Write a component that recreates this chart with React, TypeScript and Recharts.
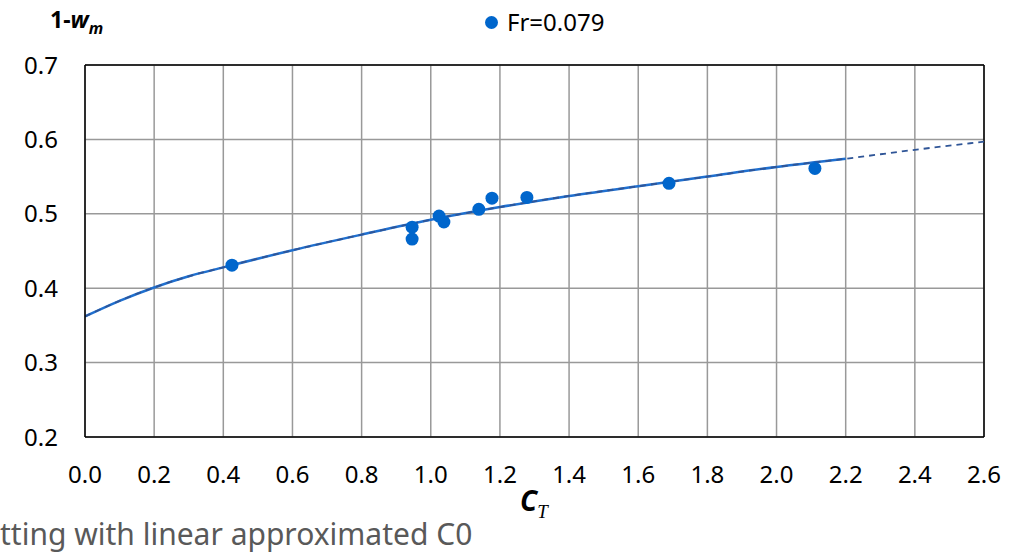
import React from 'react';
import {
  ComposedChart, Line, Scatter, XAxis, YAxis, CartesianGrid, ReferenceLine,
} from 'recharts';

// Measured points, Fr = 0.079
const ctValues = [0.425, 0.946, 0.946, 1.024, 1.038, 1.139, 1.177, 1.278, 1.689, 2.111];
const wValues = [0.431, 0.482, 0.466, 0.497, 0.489, 0.506, 0.521, 0.522, 0.541, 0.561];

// Fitted curve (solid part to 2.2, dashed extension to 2.6)
const curveCt = [0, 0.1, 0.2, 0.3, 0.4, 0.6, 0.8, 1.0, 1.2, 1.4, 1.6, 1.8, 2.0, 2.2, 2.4, 2.6];
const curveW = [0.362, 0.383, 0.401, 0.416, 0.428, 0.451, 0.472, 0.492, 0.509, 0.524, 0.537, 0.550, 0.563, 0.574, 0.586, 0.597];
const solidEnd = 2.2;

const xTicks = [0, 0.2, 0.4, 0.6, 0.8, 1.0, 1.2, 1.4, 1.6, 1.8, 2.0, 2.2, 2.4, 2.6];
const yTicks = [0.2, 0.3, 0.4, 0.5, 0.6, 0.7];

const legendLabel = 'Fr=0.079';
const captionText = 'tting with linear approximated C0';

const points = ctValues.map((x, i) => ({ x, y: wValues[i] }));
const curveAll = curveCt.map((x, i) => ({ x, y: curveW[i] }));
const curveSolid = curveAll.filter((d) => d.x <= solidEnd + 1e-9);

const FONT = '"Noto Sans", "Open Sans", sans-serif';

const Dot = (props: any) => {
  const { cx, cy } = props;
  if (cx == null || cy == null) return null;
  return <circle cx={cx} cy={cy} r={6.5} fill="#0066CC" />;
};

export default function App() {
  return (
    <div style={{ position: 'absolute', left: 0, top: 0, width: 1035, height: 553, background: '#fff', fontFamily: FONT, overflow: 'hidden' }}>
      <ComposedChart
        width={1035}
        height={553}
        margin={{ top: 65, right: 51, left: 0, bottom: 0 }}
      >
        <CartesianGrid stroke="#999999" strokeWidth={1.5} />
        <XAxis
          dataKey="x"
          type="number"
          domain={[0, 2.6]}
          ticks={xTicks}
          tickFormatter={(v: number) => v.toFixed(1)}
          allowDataOverflow
          height={116}
          axisLine={{ stroke: '#000', strokeWidth: 1.5 }}
          tickLine={false}
          tickSize={0}
          tickMargin={29}
          tick={{ fill: '#000', fontSize: 24, fontFamily: FONT }}
          interval={0}
        />
        <YAxis
          type="number"
          domain={[0.2, 0.7]}
          ticks={yTicks}
          tickFormatter={(v: number) => v.toFixed(1)}
          allowDataOverflow
          width={85}
          axisLine={{ stroke: '#000', strokeWidth: 1.5 }}
          tickLine={false}
          tickSize={0}
          tickMargin={27}
          tick={{ fill: '#000', fontSize: 24, fontFamily: FONT }}
          interval={0}
        />
        <ReferenceLine y={0.7} stroke="#000" strokeWidth={1.5} />
        <ReferenceLine x={2.6} stroke="#000" strokeWidth={1.5} />
        <Line
          data={curveSolid}
          dataKey="y"
          type="monotone"
          stroke="#1F70D0"
          strokeWidth={2.5}
          dot={false}
          isAnimationActive={false}
        />
        <Line
          data={curveAll}
          dataKey="y"
          type="monotone"
          stroke="#2F5597"
          strokeWidth={1.8}
          strokeDasharray="6 5"
          dot={false}
          isAnimationActive={false}
        />
        <Scatter data={points} dataKey="y" shape={<Dot />} isAnimationActive={false} />
      </ComposedChart>

      {/* Y axis title */}
      <div style={{ position: 'absolute', left: 50, top: 5, fontSize: 23, fontWeight: 700, color: '#000', lineHeight: '28px', whiteSpace: 'nowrap' }}>
        1-<i>w</i><sub style={{ fontSize: 16, fontStyle: 'italic' }}>m</sub>
      </div>

      {/* Legend */}
      <div style={{ position: 'absolute', left: 485, top: 6, display: 'flex', alignItems: 'center', whiteSpace: 'nowrap', height: 32 }}>
        <span style={{ display: 'inline-block', width: 13, height: 13, borderRadius: '50%', background: '#0066CC', marginRight: 9 }} />
        <span style={{ fontSize: 24, color: '#000', lineHeight: '32px' }}>{legendLabel}</span>
      </div>

      {/* X axis title */}
      <div style={{ position: 'absolute', left: 520, top: 484, fontSize: 28, fontWeight: 700, color: '#000', lineHeight: '32px', whiteSpace: 'nowrap' }}>
        <i>C</i><sub style={{ fontSize: 19, fontStyle: 'italic', fontWeight: 400, fontFamily: '"Liberation Serif", serif' }}>T</sub>
      </div>

      {/* Caption (cut off at left in source) */}
      <div style={{ position: 'absolute', left: 0, top: 516, fontSize: 30, color: '#595959', lineHeight: '36px', whiteSpace: 'nowrap' }}>
        {captionText}
      </div>
    </div>
  );
}
